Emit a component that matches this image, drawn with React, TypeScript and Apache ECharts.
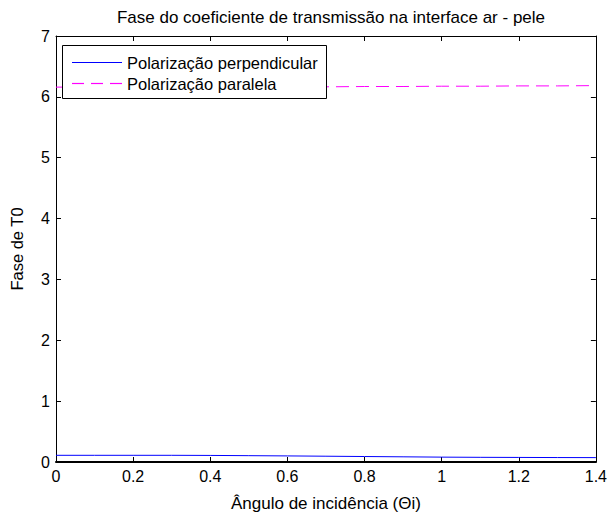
import React, { useEffect, useRef } from "react";
import * as echarts from "echarts";

const xValues = [0, 0.1, 0.2, 0.3, 0.4, 0.5, 0.6, 0.7, 0.8, 0.9, 1.0, 1.1, 1.2, 1.3, 1.4];
const perpendicular = [0.11, 0.11, 0.11, 0.11, 0.108, 0.104, 0.1, 0.095, 0.09, 0.085, 0.08, 0.077, 0.075, 0.073, 0.072];
const parallel = [6.16, 6.16, 6.16, 6.16, 6.16, 6.16, 6.165, 6.165, 6.17, 6.17, 6.175, 6.175, 6.18, 6.18, 6.185];
const seriesNames = ["Polarização perpendicular", "Polarização paralela"];
const titleText = "Fase do coeficiente de transmissão na interface ar - pele";
const xName = "Ângulo de incidência (Θi)";
const yName = "Fase de T0";

const FONT = "Liberation Sans, Arial, sans-serif";
const BLUE = "#0000ff";
const MAGENTA = "#ff00ff";

export default function App() {
  const ref = useRef<HTMLDivElement>(null);
  useEffect(() => {
    if (!ref.current) return;
    const chart = echarts.init(ref.current, undefined, { renderer: "svg" });
    const axisCommon = {
      axisLine: { show: true, onZero: false, lineStyle: { color: "#000", width: 1 } },
      axisTick: { show: true, inside: true, length: 5, lineStyle: { color: "#000" } },
      splitLine: { show: false },
    };
    const legendRows = [
      { name: seriesNames[0], color: BLUE, segs: [[72, 122]], y: 62.5 },
      { name: seriesNames[1], color: MAGENTA, segs: [[72, 84], [91, 103], [110, 122]], y: 83.5 },
    ];
    chart.setOption({
      animation: false,
      backgroundColor: "#fff",
      textStyle: { fontFamily: FONT },
      title: {
        text: titleText,
        left: 326,
        top: 4,
        textAlign: "center",
        textStyle: { fontSize: 17, fontWeight: "normal", color: "#000", fontFamily: FONT },
      },
      grid: { left: 50, right: 12, top: 36, bottom: 49, containLabel: false },
      graphic: [
        {
          type: "rect",
          z: 200,
          shape: { x: 62.5, y: 45.5, width: 264, height: 53 },
          style: { fill: "#ffffff", stroke: "#000000", lineWidth: 1 },
        },
        ...legendRows.flatMap((r) => [
          ...r.segs.map((s) => ({
            type: "line",
            z: 201,
            shape: { x1: s[0], y1: r.y, x2: s[1], y2: r.y },
            style: { stroke: r.color, lineWidth: 1.2 },
          })),
          {
            type: "text",
            z: 201,
            x: 127,
            y: r.y,
            style: {
              text: r.name,
              fontSize: 16.5,
              fontFamily: FONT,
              fill: "#000",
              verticalAlign: "middle",
              align: "left",
            },
          },
        ]),
      ],
      xAxis: [
        {
          type: "value",
          min: 0,
          max: 1.4,
          interval: 0.2,
          position: "bottom",
          name: xName,
          nameLocation: "middle",
          nameGap: 33,
          nameTextStyle: { fontSize: 17, color: "#000", fontFamily: FONT },
          axisLabel: { fontSize: 16, color: "#000", margin: 6, fontFamily: FONT },
          ...axisCommon,
          axisLine: { show: true, onZero: false, lineStyle: { color: "#000", width: 2 } },
        },
        {
          type: "value",
          min: 0,
          max: 1.4,
          interval: 0.2,
          position: "top",
          axisLabel: { show: false },
          ...axisCommon,
        },
      ],
      yAxis: [
        {
          type: "value",
          min: 0,
          max: 7,
          interval: 1,
          position: "left",
          name: yName,
          nameLocation: "middle",
          nameGap: 31,
          nameRotate: 90,
          nameTextStyle: { fontSize: 16.5, color: "#000", fontFamily: FONT },
          axisLabel: { fontSize: 16, color: "#000", margin: 6, fontFamily: FONT },
          ...axisCommon,
        },
        {
          type: "value",
          min: 0,
          max: 7,
          interval: 1,
          position: "right",
          axisLabel: { show: false },
          ...axisCommon,
        },
      ],
      series: [
        {
          name: seriesNames[0],
          type: "line",
          z: 2,
          data: xValues.map((x, i) => [x, perpendicular[i]]),
          showSymbol: false,
          symbol: "none",
          lineStyle: { color: BLUE, width: 1 },
          itemStyle: { color: BLUE },
        },
        {
          name: seriesNames[1],
          type: "line",
          z: 2,
          data: xValues.map((x, i) => [x, parallel[i]]),
          showSymbol: false,
          symbol: "none",
          lineStyle: { color: MAGENTA, width: 1, type: [13, 7] },
          itemStyle: { color: MAGENTA },
        },
      ],
    });
    return () => chart.dispose();
  }, []);
  return <div ref={ref} style={{ width: 610, height: 517, position: "absolute", left: 0, top: 0 }} />;
}
